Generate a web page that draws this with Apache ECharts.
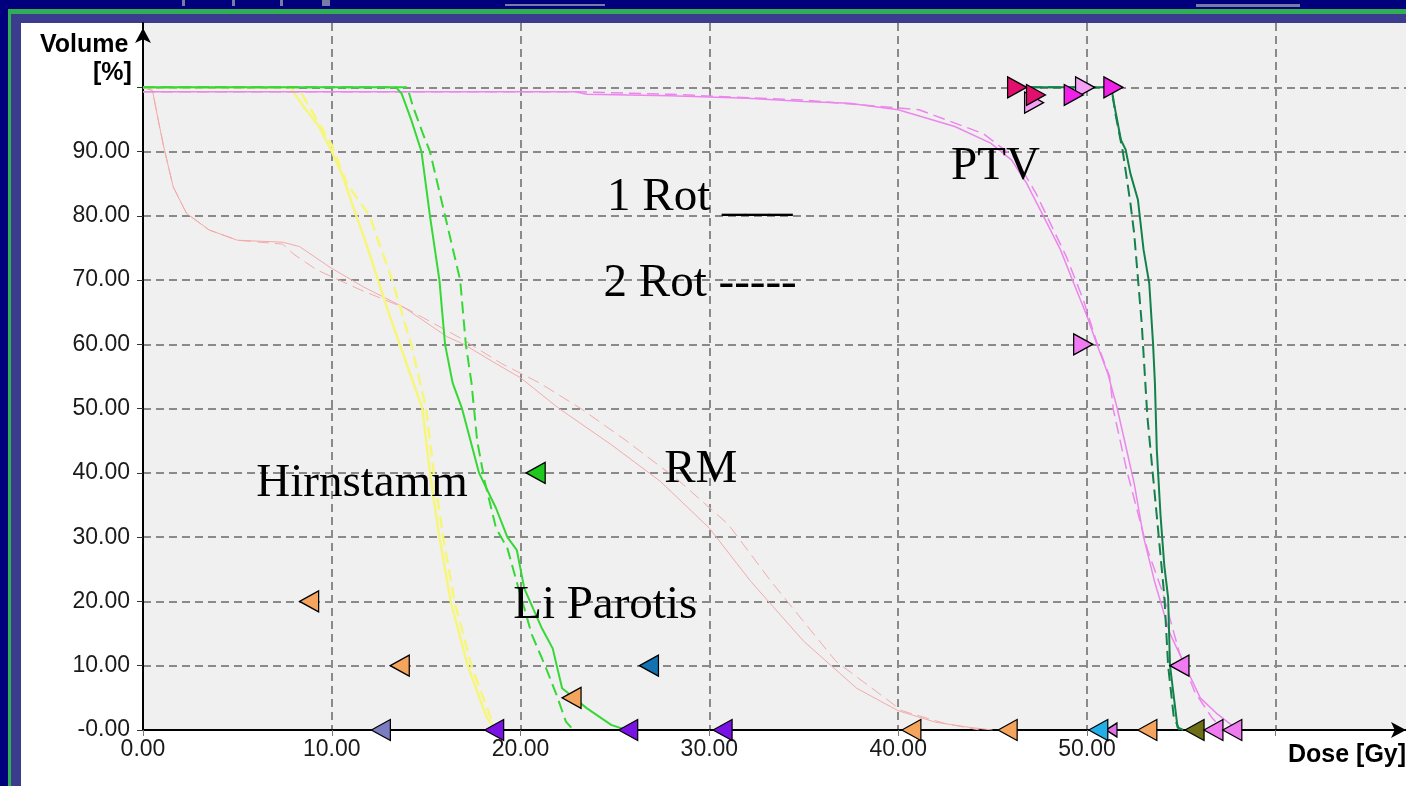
<!DOCTYPE html>
<html>
<head>
<meta charset="utf-8">
<script src="https://cdn.jsdelivr.net/npm/echarts@6/dist/echarts.min.js"></script>
<style>
  html, body { margin: 0; padding: 0; width: 1406px; height: 786px; overflow: hidden; background: #00007c; }
  .frm { position: absolute; right: 0; bottom: 0; }
  .bit { position: absolute; background: #7a7aa8; }
  #chart { position: absolute; left: 0; top: 0; width: 1406px; height: 786px; }
</style>
</head>
<body>
<div class="bit" style="left:182px;top:0;width:3px;height:6px;"></div>
<div class="bit" style="left:232px;top:0;width:3px;height:6px;"></div>
<div class="bit" style="left:280px;top:0;width:3px;height:6px;"></div>
<div class="bit" style="left:322px;top:0;width:8px;height:6px;"></div>
<div class="bit" style="left:505px;top:4px;width:100px;height:2px;"></div>
<div class="bit" style="left:1196px;top:4px;width:104px;height:3px;"></div>
<div class="frm" style="left:8px;top:9px;background:#2fae52;"></div>
<div class="frm" style="left:11px;top:14px;background:#3c3c8e;"></div>
<div class="frm" style="left:21px;top:23px;background:#ffffff;"></div>
<div id="chart"></div>
<script>
// ---- axis ranges / ticks ----
const xRange = [0, 66.9];
const yRange = [0, 110];
const xTickStep = 10;
const yTickStep = 10;
const xLabelMax = 50;   // last labelled dose tick
const yLabelMax = 90;   // last labelled volume tick

// ---- DVH curves: [dose Gy, volume %] ----
// Hirnstamm (yellow)
const hirnstamm1 = [[0,100],[7.8,100],[8.5,97],[9.3,94],[10.0,90],[10.6,86],[11.3,80],[11.9,75],[12.45,70],[13.0,65],[13.6,60],[14.2,55],[14.8,50],[15.2,40],[15.7,30],[16.3,20],[17.2,10],[18.2,2],[18.7,0]];
const hirnstamm2 = [[0,100],[8.2,100],[9.0,96],[10.0,91],[10.8,85],[12.0,80],[12.6,75],[13.2,70],[13.7,65],[14.2,60],[14.6,55],[15.0,50],[15.4,40],[15.9,30],[16.5,20],[17.4,10],[18.4,2],[18.9,0]];
// Li Parotis (green)
const parotis1 = [[0,100],[13.4,100],[13.7,99],[14.2,95],[14.75,90],[15.2,80],[15.7,70],[16.0,60],[16.4,54],[16.9,50],[17.8,40],[18.7,34.5],[19.3,30],[19.8,28],[20.2,22],[21.1,16],[21.7,12.7],[22.2,6.5],[23.5,3.4],[24.8,0.8],[25.6,0]];
const parotis2 = [[0,100],[14.0,100],[14.3,97],[14.8,93],[15.2,90],[16.0,80],[16.8,70],[17.1,60],[17.4,54],[17.7,45],[18.1,38.7],[18.7,31.4],[19.3,28.3],[19.8,23],[20.6,14.8],[21.3,10],[21.9,5.5],[22.4,1.3],[22.8,0]];
// RM (light red)
const rm1 = [[0,100],[0.5,99.5],[0.8,95],[1.1,90.7],[1.6,84.5],[2.3,80.4],[3.5,77.8],[5.0,76.2],[7.4,75.9],[8.3,75.2],[9.9,72],[11.7,68.9],[13.8,65.8],[16.1,61.2],[17.0,60],[18.7,57],[20.0,54.8],[22.0,50.1],[24.8,44.4],[27.4,38.7],[30.0,31.4],[32.2,23.1],[35.0,13.8],[37.8,6.5],[40.0,3.0],[42.0,1.2],[43.8,0.4],[45.0,0]];
const rm2 = [[0,100],[0.5,99.5],[0.8,95],[1.1,90.7],[1.6,84.5],[2.3,80.4],[3.5,77.8],[5.0,76.2],[7.4,75.6],[8.0,74],[9.2,71.6],[11.5,68.5],[14.0,65.5],[16.8,61],[19.0,57],[21.0,54],[23.2,50],[25.6,45],[28.3,39],[31.0,32],[33.3,23],[36.7,10.7],[40.2,3],[42.5,1],[44.3,0]];
// PTV (violet)
const ptv1 = [[0,99.3],[22.9,99.3],[23.5,98.9],[27.9,98.7],[32,98.3],[35,97.8],[37.4,97.5],[40,96.5],[43,93.9],[44.9,91.3],[46,88.7],[46.8,85.1],[47.7,79.9],[48.6,74.7],[49.3,69.5],[50.0,64.4],[50.5,60.2],[51.1,55.5],[51.6,50.1],[52.1,43.6],[52.5,38.4],[53.0,30],[53.6,22.9],[54.4,15],[55.2,10],[56.0,5],[56.9,2.5],[58,0]];
const ptv2 = [[0,99.3],[23,99.3],[28,98.9],[35,98],[41.1,96.5],[44.5,92.8],[46.2,89],[47.3,83.5],[48.9,73.7],[49.8,67],[50.5,60.5],[51.2,55],[51.4,49.8],[52.1,40.5],[53.2,28.1],[54.0,21.5],[54.9,12],[55.7,6],[56.6,2],[57.2,0]];
// PTV boost (dark green)
const boost1 = [[47.0,100],[51.3,100],[51.4,98],[51.8,91.8],[52.05,90.3],[52.3,86.6],[52.7,82.5],[53.0,74.7],[53.3,69.5],[53.5,60.2],[53.6,54],[53.7,43.6],[53.9,33.3],[54.1,25.5],[54.3,20.6],[54.4,10],[54.8,0.4],[55.1,0]];
const boost2 = [[47.0,100],[51.3,100],[51.5,96],[51.9,90],[52.3,82],[52.5,77.3],[52.9,63.3],[53.2,48.8],[53.7,33.3],[54.1,20.8],[54.3,10],[54.6,2],[54.9,0]];

// ---- constraint markers ----
const markOrange   = [[8.8,20],[13.6,10],[22.7,5],[40.7,0],[45.8,0],[53.2,0]];
const markPurple   = [[18.6,0],[25.7,0],[30.7,0]];
const markSlate    = [[12.6,0]];
const markBlue     = [[26.8,10]];
const markGreen    = [[20.8,40]];
const markCyan     = [[50.6,0]];
const markViolet   = [[51.3,0]];
const markOlive    = [[55.7,0]];
const markPinkL    = [[54.9,10],[56.7,0],[57.7,0]];
const markPinkR    = [[49.8,60]];
const markLightR   = [[47.2,97.6],[49.9,100]];
const markCrimsonR = [[46.3,100],[47.3,98.8]];
const markMagentaR = [[49.3,98.8],[51.4,100]];

// ---- text annotations [text, dose, volume] ----
const annotations = [
  ['PTV', 45.18, 87.5],
  ['1 Rot ___', 29.52, 82.7],
  ['2 Rot -----', 29.54, 69.4],
  ['RM', 29.57, 40.45],
  ['Hirnstamm', 11.63, 38.3],
  ['Li Parotis', 24.51, 19.3]
];

function line(data, color, width, dashed, z) {
  return {
    type: 'line', data: data, showSymbol: false, symbol: 'none', z: z || 2,
    lineStyle: { color: color, width: width, type: dashed ? [12, 6] : 'solid' },
    clip: true, silent: true
  };
}
function marks(data, color, dir, size) {
  return {
    type: 'scatter', data: data, symbol: 'triangle',
    symbolRotate: dir === 'L' ? 90 : -90,
    symbolSize: size || [21, 19], z: 5, clip: false, silent: true,
    itemStyle: { color: color, borderColor: '#000', borderWidth: 1.3, opacity: 1 }
  };
}

const chart = echarts.init(document.getElementById('chart'), null, { renderer: 'canvas' });
const option = {
  animation: false,
  backgroundColor: 'transparent',
  grid: { left: 143, right: 0, top: 23, bottom: 56, show: true, backgroundColor: '#f0f0f0', borderWidth: 0, containLabel: false, outerBoundsMode: 'none' },
  xAxis: {
    type: 'value', min: xRange[0], max: xRange[1], interval: xTickStep,
    axisLine: { show: true, onZero: false, lineStyle: { color: '#000', width: 2 }, symbol: ['none', 'arrow'], symbolSize: [12, 15] },
    axisTick: { show: true, length: 6, lineStyle: { color: '#777', width: 1 } },
    axisLabel: { margin: 8, fontFamily: 'Liberation Sans, Arial, sans-serif', fontSize: 23, color: '#1a1a1a', showMaxLabel: false,
      formatter: v => v > xLabelMax + 0.5 ? '' : v.toFixed(2) },
    splitLine: { show: true, showMinLine: false, showMaxLine: false, lineStyle: { color: '#8a8a8a', width: 2, type: [8, 5] } }
  },
  yAxis: {
    type: 'value', min: yRange[0], max: yRange[1], interval: yTickStep,
    axisLine: { show: true, onZero: false, lineStyle: { color: '#000', width: 2 }, symbol: ['none', 'arrow'], symbolSize: [12, 15], symbolOffset: [0, -5] },
    axisTick: { show: true, length: 6, lineStyle: { color: '#333', width: 1 } },
    axisLabel: { margin: 13, fontFamily: 'Liberation Sans, Arial, sans-serif', fontSize: 23, color: '#1a1a1a', showMaxLabel: false,
      formatter: v => v > yLabelMax + 0.5 ? '' : (v === 0 ? '-0.00' : v.toFixed(2)) },
    splitLine: { show: true, showMinLine: false, showMaxLine: false, lineStyle: { color: '#8a8a8a', width: 2, type: [8, 5] } }
  },
  graphic: [
    { type: 'text', left: 40, top: 33, z: 10, style: { text: 'Volume', font: 'bold 25px Liberation Sans, Arial, sans-serif', fill: '#000' } },
    { type: 'text', left: 93, top: 61, z: 10, style: { text: '[%]', font: 'bold 25px Liberation Sans, Arial, sans-serif', fill: '#000' } },
    { type: 'text', left: 1288, top: 743, z: 10, style: { text: 'Dose [Gy]', font: 'bold 25px Liberation Sans, Arial, sans-serif', fill: '#000' } }
  ],
  series: [
    line(rm1, '#f2aaaa', 1, false),
    line(rm2, '#f2aaaa', 1, true),
    line(hirnstamm1, '#f6f67c', 2.5, false),
    line(hirnstamm2, '#f6f67c', 2.5, true),
    line(ptv1, '#ec86ec', 1.5, false),
    line(ptv2, '#ec86ec', 1.5, true),
    line(parotis1, '#36d836', 2, false, 3),
    line(parotis2, '#36d836', 2, true, 3),
    line(boost1, '#14804c', 2, false, 3),
    line(boost2, '#14804c', 2, true, 3),
    marks(markSlate, '#7c7cc0', 'L'),
    marks(markPurple, '#7a12e6', 'L'),
    marks(markOrange, '#f5a45e', 'L'),
    marks(markBlue, '#1272b2', 'L'),
    marks(markGreen, '#1ec81e', 'L'),
    marks(markViolet, '#e070e6', 'L', [14, 11]),
    marks(markCyan, '#22aee6', 'L'),
    marks(markOlive, '#6e6e14', 'L'),
    marks(markPinkL, '#f07af0', 'L'),
    marks(markPinkR, '#f07af0', 'R'),
    marks(markLightR, '#f4a0f4', 'R'),
    marks(markCrimsonR, '#e0106c', 'R'),
    marks(markMagentaR, '#f020e8', 'R'),
    {
      type: 'scatter', z: 8, symbolSize: 1, silent: true,
      itemStyle: { color: 'rgba(0,0,0,0)' },
      data: annotations.map(a => ({ value: [a[1], a[2]], name: a[0] })),
      label: { show: true, position: [0, 0], formatter: p => p.name, align: 'center', verticalAlign: 'middle',
        fontFamily: 'Liberation Serif, Times New Roman, serif', fontSize: 47, color: '#000',
        textBorderWidth: 0, textBorderColor: 'transparent', opacity: 1 }
    }
  ]
};
chart.setOption(option);
</script>
</body>
</html>
